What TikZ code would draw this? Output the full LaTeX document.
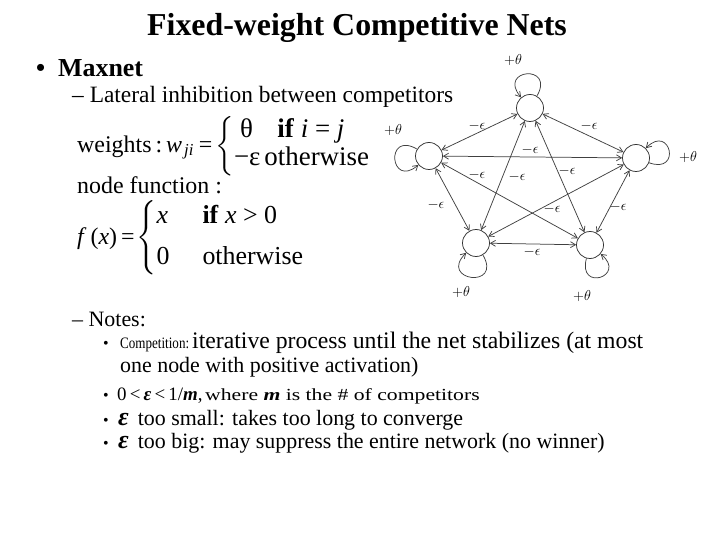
\documentclass[tikz,border=0pt]{standalone}
\usepackage{amsmath}
\usepackage{fontspec}
\setmainfont{Liberation Serif}
\usetikzlibrary{arrows.meta}

\tikzset{
  slidetitle/.style={font=\fontsize{32}{34}\selectfont\bfseries, inner sep=0pt, anchor=base},
  levelone/.style={font=\fontsize{26}{28}\selectfont\bfseries, inner sep=0pt, anchor=base west},
  leveltwo/.style={font=\fontsize{23.5}{26}\selectfont, inner sep=0pt, anchor=base west},
  levelthree/.style={font=\fontsize{22}{24}\selectfont, inner sep=0pt, anchor=base west},
  dot/.style={font=\fontsize{16}{18}\selectfont, inner sep=0pt, anchor=base west},
  smalltext/.style={font=\fontsize{17}{18}\selectfont, inner sep=0pt, anchor=base west},
  formula/.style={font=\fontsize{24}{28}\selectfont, inner sep=0pt, anchor=west},
  unit/.style={circle, draw=black!80, line width=0.75pt, minimum size=27bp, inner sep=0pt},
  link/.style={{Straight Barb[length=5bp,width=6bp]}-{Straight Barb[length=5bp,width=6bp]}, line width=0.75pt, black!75},
  selfloop/.style={-{Straight Barb[length=5bp,width=6bp]}, line width=0.75pt, black!75, looseness=6},
  wlabel/.style={font=\fontsize{14}{14}\selectfont, inner sep=0pt}
}
\newcommand{\epsbig}{{\fontsize{26}{24}\selectfont\textbf{\textit{ε}}}}

\begin{document}
\begin{tikzpicture}[x=1bp, y=-1bp]
  \useasboundingbox (0,0) rectangle (720,540);

  % title and bullets
  \node[slidetitle] (title) at (357,36) {Fixed-weight Competitive Nets};
  \node[levelone] (b1) at (36,77) {•};
  \node[levelone] (maxnet) at (58,77) {Maxnet};
  \node[leveltwo] (lateral) at (72,103) {– Lateral inhibition between competitors};

  % weights and node function
  \node[formula] (weights) at (77,146) {weights\,:\,\textit{w}\textsubscript{\hspace{2bp}\textit{ji}}\hspace{5bp}=\hspace{3bp}$\left\{\fontsize{27}{28}\selectfont\begin{tabular}{@{}l@{\hspace{4bp}}l@{}}\hspace{6bp}θ & \hspace{13bp}\textbf{if} \textit{i} = \textit{j}\\ −ε & otherwise\end{tabular}\right.$};
  \node[formula, anchor=base west] (nodefn) at (77,194) {node function :};
  \node[formula] (fx) at (77,238) {\textit{f}\,(\textit{x})\hspace{4bp}=\hspace{2bp}$\left\{\fontsize{26}{21}\selectfont\begin{tabular}{@{}l@{\hspace{33bp}}l@{}}\textit{x} & \textbf{if} \textit{x} > 0\\[16bp] 0 & otherwise\end{tabular}\right.$};

  % notes
  \node[levelthree] (notes) at (72,326) {– Notes:};
  \node[dot] (b2) at (103,348) {•};
  \node[smalltext] (compet) at (120,348) {\scalebox{0.82}[1]{\fontsize{16}{18}\selectfont Competition:}};
  \node[levelthree, font=\fontsize{23.8}{26}\selectfont] (iter) at (192,348) {iterative process until the net stabilizes (at most};
  \node[levelthree] (iter2) at (120,372) {one node with positive activation)};
  \node[dot] (b3) at (103,400) {•};
  \node[levelthree, font=\fontsize{19}{22}\selectfont] (range) at (117,400) {0\,<\,\textbf{\textit{ε}}\,<\,1/\textbf{\textit{m}},};
  \node[smalltext] (where) at (205,400) {\scalebox{1.28}[1]{where \textbf{\textit{m}} is the \# of competitors}};
  \node[dot] (b4) at (103,425) {•};
  \node[levelthree] (small) at (118,425) {\epsbig\hspace{9bp}too small: takes too long to converge};
  \node[dot] (b5) at (103,448) {•};
  \node[levelthree] (big) at (118,448) {\epsbig\hspace{9bp}too big: may suppress the entire network (no winner)};

  % maxnet units
  \node[unit] (n1) at (530,108) {};
  \node[unit] (n2) at (429,156) {};
  \node[unit] (n3) at (636,158) {};
  \node[unit] (n4) at (476,243) {};
  \node[unit] (n5) at (590,245) {};

  % inhibitory links
  \draw[link] (n1) -- (n2);
  \draw[link] (n1) -- (n3);
  \draw[link] (n1) -- (n4);
  \draw[link] (n1) -- (n5);
  \draw[link] (n2) -- (n3);
  \draw[link] (n2) -- (n4);
  \draw[link] (n2) -- (n5);
  \draw[link] (n3) -- (n4);
  \draw[link] (n3) -- (n5);
  \draw[link] (n4) -- (n5);

  % self excitation
  \draw[selfloop] (n1) to[out=60, in=130] (n1);
  \draw[selfloop] (n2) to[out=150, in=220] (n2);
  \draw[selfloop] (n3) to[out=-20, in=45] (n3);
  \draw[selfloop] (n4) to[out=-60, in=-135] (n4);
  \draw[selfloop] (n5) to[out=-105, in=-40] (n5);

  \node[wlabel] (t1) at (513,60) {$+\theta$};
  \node[wlabel] (t2) at (393,130) {$+\theta$};
  \node[wlabel] (t3) at (688,157) {$+\theta$};
  \node[wlabel] (t4) at (461,292) {$+\theta$};
  \node[wlabel] (t5) at (582,296) {$+\theta$};

  \node[wlabel] (e12) at (477,126) {$-\epsilon$};
  \node[wlabel] (e13) at (589,126) {$-\epsilon$};
  \node[wlabel] (e23) at (530,150) {$-\epsilon$};
  \node[wlabel] (e25) at (477,175) {$-\epsilon$};
  \node[wlabel] (e14) at (517,177) {$-\epsilon$};
  \node[wlabel] (e15) at (567,171) {$-\epsilon$};
  \node[wlabel] (e24) at (436,205) {$-\epsilon$};
  \node[wlabel] (e34) at (552,209) {$-\epsilon$};
  \node[wlabel] (e35) at (618,207) {$-\epsilon$};
  \node[wlabel] (e45) at (532,252) {$-\epsilon$};
\end{tikzpicture}
\end{document}
